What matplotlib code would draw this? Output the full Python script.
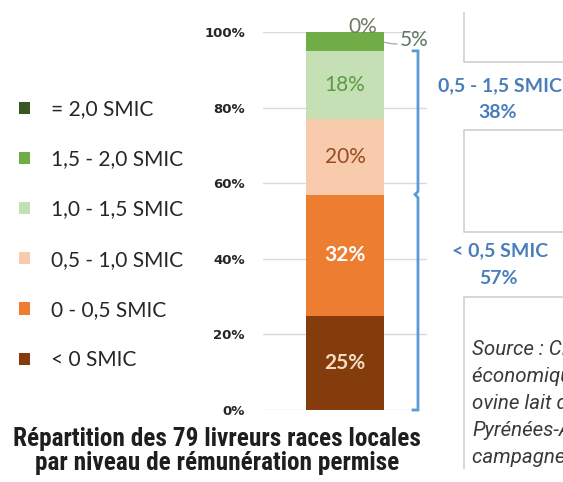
import matplotlib
matplotlib.use("Agg")
import matplotlib.pyplot as plt
from matplotlib import font_manager as fm
from matplotlib.lines import Line2D
from matplotlib.patches import Patch

# ---------------- data ----------------
categories = ["< 0 SMIC", "0 - 0,5 SMIC", "0,5 - 1,0 SMIC", "1,0 - 1,5 SMIC",
              "1,5 - 2,0 SMIC", "= 2,0 SMIC"]
values = [25, 32, 20, 18, 5, 0]
value_labels = ["25%", "32%", "20%", "18%", "5%", "0%"]
colors = ["#843C0C", "#ED7D31", "#F8CBAD", "#C5E0B4", "#70AD47", "#385723"]
label_colors = ["#F6DCC6", "#FFFFFF", "#9A4A22", "#5E9A45", "#5F7A5F", "#6E7C62"]
yticks = [0, 20, 40, 60, 80, 100]
ytick_labels = ["0%", "20%", "40%", "60%", "80%", "100%"]
group_names = ["< 0,5 SMIC", "0,5 - 1,5 SMIC"]
group_pcts = ["57%", "38%"]
group_split = 57
group_top = 95
title = "Répartition des 79 livreurs races locales\npar niveau de rémunération permise"
source_lines = ["Source : CDEO, étude", "économique de la filière", "ovine lait des",
                "Pyrénées-Atlantiques,", "campagne 2018"]


def pick(cands, **kw):
    for fam in cands:
        try:
            fm.findfont(fm.FontProperties(family=fam, **kw), fallback_to_default=False)
            return fam
        except Exception:
            continue
    return "DejaVu Sans"


body = pick(["Lato", "Open Sans", "DejaVu Sans"])
narrow = pick(["Roboto Condensed", "Liberation Sans Narrow", "DejaVu Sans"], weight="bold")
srcfont = pick(["Roboto", "Open Sans", "Noto Sans"], style="italic")
plt.rcParams["font.family"] = [body, "DejaVu Sans"]

W, H = 563, 482
fig = plt.figure(figsize=(W / 100, H / 100), dpi=100)


def fx(x):
    return x / W


def fy(y):
    return 1 - y / H


# axes: gridlines from x=263..427 px, 0% at y=410 px, 100% at y=32 px
ax = fig.add_axes([fx(263), fy(410), (427 - 263) / W, (410 - 32) / H])
ax.set_xlim(-0.5, 0.5)
ax.set_ylim(0, 100)

bottom = 0
for v, c in zip(values, colors):
    ax.bar(0, v, width=0.475, bottom=bottom, color=c, zorder=2)
    bottom += v

# segment labels
cum = 0
for i, (v, lab) in enumerate(zip(values, value_labels)):
    mid = cum + v / 2
    if i < 4:
        bold = i < 2
        ax.text(0, mid, lab, ha="center", va="center", fontsize=15,
                color=label_colors[i], fontweight="bold" if bold else "normal", zorder=3)
    cum += v

# "5%" with leader line, "0%" above
ax.annotate(value_labels[4], xy=(0.24, 97.3), xytext=(0.335, 98.0), ha="left", va="center",
            fontsize=15, color=label_colors[4], annotation_clip=False,
            arrowprops=dict(arrowstyle="-", color="#9BAF9B", lw=0.9,
                            shrinkA=0, shrinkB=0, connectionstyle="arc3,rad=-0.2"))
ax.text(0.11, 101.4, value_labels[5], ha="center", va="center", fontsize=15,
        color=label_colors[5], clip_on=False)

ax.set_yticks(yticks)
ax.set_yticklabels(ytick_labels, fontsize=9.5, fontweight="bold", color="#262626",
                   family="DejaVu Sans")
ax.tick_params(axis="y", length=0, pad=13)
ax.set_xticks([])
ax.grid(axis="y", color="#D9D9D9", lw=1, zorder=0)
for s in ax.spines.values():
    s.set_visible(False)

# bracket
bx, hk = 0.445, 0.03
blue = "#5B9BD5"
ax.add_line(Line2D([bx - hk, bx, bx, bx - 0.018, bx, bx, bx - hk],
                   [group_top, group_top, group_split + 0.8, group_split, group_split - 0.8, 0, 0],
                   color=blue, lw=2, clip_on=False, solid_joinstyle="miter"))

# right blue group labels
tblue = "#4A7EBB"
for name, pct, yn, yp in [(group_names[1], group_pcts[1], 86, 112),
                          (group_names[0], group_pcts[0], 251, 278)]:
    fig.text(fx(500), fy(yn), name, ha="center", va="center", fontsize=14,
             fontweight="bold", color=tblue)
    fig.text(fx(498), fy(yp), pct, ha="center", va="center", fontsize=14,
             fontweight="bold", color=tblue)

# gray text-box borders
gc = "#CFCFCF"
for xs, ys in [([464, 464, 563], [13, 62, 62]),
               ([563, 464, 464, 563], [130, 130, 232, 232]),
               ([563, 464, 464], [297, 297, 468])]:
    fig.add_artist(Line2D([fx(x) for x in xs], [fy(y) for y in ys], color=gc, lw=1.2))

# source text
for i, line in enumerate(source_lines):
    fig.text(fx(472), fy(349 + i * 27.2), line, ha="left", va="center", fontsize=14.8,
             style="italic", color="#3A3A3A", family=[srcfont, "DejaVu Sans"])

# legend
handles = [Patch(facecolor=c) for c in colors][::-1]
leg = fig.legend(handles, categories[::-1], loc="upper left",
                 bbox_to_anchor=(fx(19), fy(99)), frameon=False, fontsize=15,
                 handlelength=0.52, handleheight=0.52, handletextpad=1.0,
                 labelspacing=1.45, borderpad=0, borderaxespad=0, labelcolor="#262626")

# title
fig.text(fx(217), fy(451), title, ha="center", va="center", fontsize=18.2,
         fontweight="bold", color="#1E1E1E", family=[narrow, "DejaVu Sans"],
         linespacing=1.02)

fig.savefig("out.png", dpi=100)
